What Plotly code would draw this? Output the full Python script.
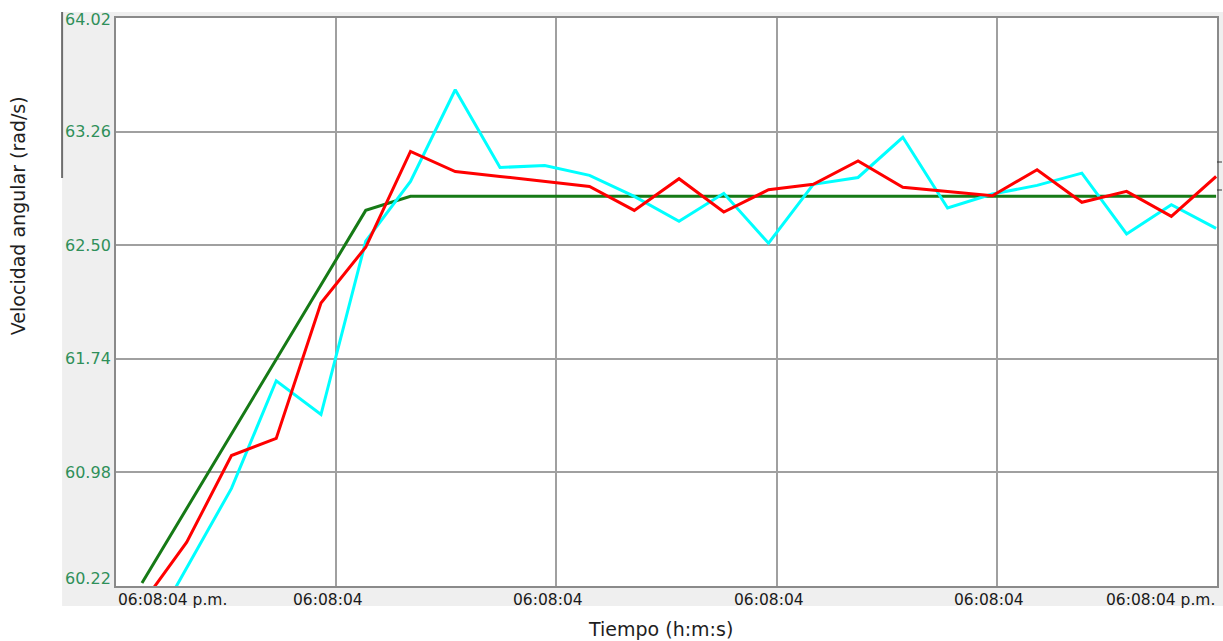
import plotly.graph_objects as go

# Sample index along the time axis (one reading per step)
muestras = list(range(25))

# Angular velocity readings (rad/s)
referencia = [60.24, 60.74, 61.24, 61.733, 62.233, 62.733, 62.827, 62.827, 62.827,
              62.827, 62.827, 62.827, 62.827, 62.827, 62.827, 62.827, 62.827, 62.827,
              62.827, 62.827, 62.827, 62.827, 62.827, 62.827, 62.827]
medida_a = [59.81, 60.34, 60.873, 61.593, 61.367, 62.527, 62.927, 63.54, 63.02,
            63.033, 62.967, 62.827, 62.66, 62.847, 62.513, 62.907, 62.953, 63.222,
            62.749, 62.842, 62.9, 62.982, 62.575, 62.771, 62.613]
medida_b = [60.10, 60.513, 61.093, 61.207, 62.113, 62.487, 63.127, 62.993, 62.96,
            62.927, 62.893, 62.733, 62.945, 62.722, 62.871, 62.907, 63.064, 62.887,
            62.86, 62.831, 63.005, 62.787, 62.86, 62.693, 62.96]

y_ticks = [60.22, 60.98, 61.74, 62.50, 63.26, 64.02]
y_tick_text = ["60.22", "60.98", "61.74", "62.50", "63.26", "64.02"]
x_tick_text = ["06:08:04 p.m.", "06:08:04", "06:08:04", "06:08:04", "06:08:04", "06:08:04 p.m."]

X_RANGE = [-0.58, 24.02]
Y_RANGE = [60.22, 64.02]

W, H = 1223, 641
L, R, T, B = 116, 4, 18, 55
PW, PH = W - L - R, H - T - B


def px_x(px):
    return (px - L) / PW


def px_y(py):
    return (H - B - py) / PH


step = (X_RANGE[1] - X_RANGE[0]) / 5
x_grid = [X_RANGE[0] + step * i for i in range(1, 5)]

fig = go.Figure()
fig.add_trace(go.Scatter(x=muestras, y=referencia, mode="lines",
                         line=dict(color="#167a16", width=3), showlegend=False))
fig.add_trace(go.Scatter(x=muestras, y=medida_a, mode="lines",
                         line=dict(color="#00ffff", width=3), showlegend=False))
fig.add_trace(go.Scatter(x=muestras, y=medida_b, mode="lines",
                         line=dict(color="#ff0000", width=3), showlegend=False))

shapes = [
    # grey panel behind the axes
    dict(type="rect", xref="paper", yref="paper", layer="below",
         x0=px_x(62), x1=px_x(1230), y0=px_y(606), y1=px_y(12),
         fillcolor="#efefef", line=dict(width=0)),
    # white plotting area
    dict(type="rect", xref="paper", yref="paper", layer="below",
         x0=0, x1=1, y0=0, y1=1, fillcolor="white", line=dict(width=0)),
    # partial dark edge on the left of the panel
    dict(type="line", xref="paper", yref="paper",
         x0=px_x(62), x1=px_x(62), y0=px_y(178), y1=px_y(12),
         line=dict(color="#6e6e6e", width=2)),
    # small marks on the right edge
    dict(type="line", xref="paper", yref="paper",
         x0=1, x1=px_x(1224), y0=px_y(162), y1=px_y(162),
         line=dict(color="#333333", width=1)),
    dict(type="line", xref="paper", yref="paper",
         x0=1, x1=px_x(1224), y0=px_y(190), y1=px_y(190),
         line=dict(color="#333333", width=1)),
]

annotations = []
label_font = dict(family="DejaVu Sans", size=15.5, color="#1a1a1a")
for i, txt in enumerate(x_tick_text):
    if i == 0:
        annotations.append(dict(x=0, xref="paper", y=0, yref="paper", text=txt,
                                xanchor="left", yanchor="top", yshift=-3,
                                showarrow=False, font=label_font))
    elif i == len(x_tick_text) - 1:
        annotations.append(dict(x=1, xref="paper", y=0, yref="paper", text=txt,
                                xanchor="right", yanchor="top", yshift=-3,
                                showarrow=False, font=label_font))
    else:
        annotations.append(dict(x=x_grid[i - 1], xref="x", y=0, yref="paper", text=txt,
                                xanchor="center", yanchor="top", yshift=-3, xshift=-8,
                                showarrow=False, font=label_font))

ylab_font = dict(family="DejaVu Sans", size=16, color="#2f8f5a")
for v, txt in zip(y_ticks, y_tick_text):
    shift = 0
    if v == Y_RANGE[0]:
        shift = 8
    elif v == Y_RANGE[1]:
        shift = -1
    annotations.append(dict(x=0, xref="paper", y=v, yref="y", text=txt,
                            xanchor="right", yanchor="middle", xshift=-3, yshift=shift,
                            showarrow=False, font=ylab_font))

title_font = dict(family="DejaVu Sans", size=19, color="#1e1e1e")
annotations.append(dict(x=px_x(18), xref="paper", y=px_y(216), yref="paper",
                        text="Velocidad angular (rad/s)", textangle=-90,
                        xanchor="center", yanchor="middle", showarrow=False, font=title_font))
annotations.append(dict(x=px_x(661), xref="paper", y=px_y(629), yref="paper",
                        text="Tiempo (h:m:s)", xanchor="center", yanchor="middle",
                        showarrow=False, font=title_font))

fig.update_layout(
    width=W, height=H,
    margin=dict(l=L, r=R, t=T, b=B, pad=0),
    paper_bgcolor="white",
    plot_bgcolor="white",
    shapes=shapes,
    annotations=annotations,
    xaxis=dict(range=X_RANGE, tickmode="array", tickvals=x_grid, showticklabels=False,
               showgrid=True, gridcolor="#a0a0a0", gridwidth=2, zeroline=False,
               showline=True, linecolor="#8a8a8a", linewidth=2, mirror=True, ticks=""),
    yaxis=dict(range=Y_RANGE, tickmode="array", tickvals=y_ticks, showticklabels=False,
               showgrid=True, gridcolor="#a0a0a0", gridwidth=2, zeroline=False,
               showline=True, linecolor="#8a8a8a", linewidth=2, mirror=True, ticks=""),
)

fig.write_html("out.html")
